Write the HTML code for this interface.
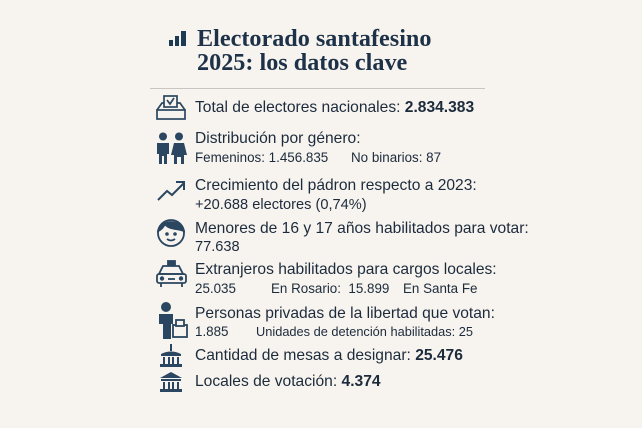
<!DOCTYPE html>
<html><head><meta charset="utf-8"><style>
*{margin:0;padding:0;box-sizing:border-box}
body{width:642px;height:428px;background:#f7f3ee;position:relative;overflow:hidden;font-family:"Liberation Sans",sans-serif;color:#1c2b3c}
.t{position:absolute;left:197px;font-family:"Liberation Serif",serif;font-size:24.2px;font-weight:bold;line-height:24px;color:#1d3248;white-space:nowrap}
.m{position:absolute;left:195px;font-size:15.6px;line-height:20px;white-space:nowrap}
.s{position:absolute;font-size:13.4px;line-height:18px;white-space:nowrap}
b{font-weight:bold}
svg{position:absolute}
</style></head><body>
<svg style="left:169px;top:31px" width="18" height="16"><rect x="0" y="9" width="4" height="6" fill="#1d3a55"/><rect x="6" y="5" width="4" height="10" fill="#1d3a55"/><rect x="12" y="0" width="5" height="15" fill="#1d3a55"/></svg>
<div class="t" style="top:27px">Electorado santafesino</div>
<div class="t" style="top:51px">2025: los datos clave</div>
<div style="position:absolute;left:150px;top:88px;width:335px;height:1px;background:#c9c6c2"></div>

<svg style="left:156px;top:95px" width="32" height="26" fill="none" stroke="#2b4660" stroke-width="1.7"><rect x="1" y="15" width="28" height="9"/><path d="M1 15 L6 8 H24 L29 15"/><rect x="8" y="1" width="13" height="11" fill="#f7f3ee"/><path d="M11 5 L14 9 L18 3"/></svg>
<svg style="left:157px;top:132px" width="32" height="34" fill="#2b4660"><circle cx="6" cy="4.5" r="4"/><circle cx="22" cy="4.5" r="4"/><path d="M0 11 H12 V22 H10 V32 H7 V24 H5 V32 H2 V22 H0Z"/><path d="M17 11 H27 L30 23 H27 V32 H24 V25 H20 V32 H17 V23 H14Z"/></svg>
<svg style="left:157px;top:179px" width="32" height="24" fill="none" stroke="#2b4660" stroke-width="2"><path d="M1 21 L10 12 L15 16 L27 4"/><path d="M19 3 H27 V11"/></svg>
<svg style="left:156px;top:217px" width="32" height="32" fill="none" stroke="#2b4660" stroke-width="1.8"><circle cx="15" cy="16" r="13" fill="#f7f3ee"/><path d="M2 14 C4 2 26 2 28 14 C21 11 13 13 9 7 C7 11 5 13 2 14Z" fill="#2b4660"/><circle cx="11" cy="17" r="0.9" fill="#2b4660"/><circle cx="19" cy="17" r="0.9" fill="#2b4660"/><path d="M11 22 Q15 25 19 22"/></svg>
<svg style="left:156px;top:260px" width="32" height="30" fill="none" stroke="#2b4660" stroke-width="1.8"><rect x="12" y="1" width="7" height="4" fill="#2b4660"/><path d="M7 6 H23 L27 14 H3Z"/><rect x="1" y="14" width="29" height="9" rx="2"/><circle cx="6" cy="18.5" r="1.3" fill="#2b4660"/><circle cx="25" cy="18.5" r="1.3" fill="#2b4660"/><path d="M12 19 H19"/><path d="M5 23 V27 M26 23 V27"/></svg>
<svg style="left:159px;top:302px" width="32" height="38" fill="#2b4660"><circle cx="7" cy="5" r="5"/><path d="M0 12 H14 V22 H12 V37 H4 V22 H0Z"/><rect x="14" y="23" width="14" height="12" fill="#f7f3ee" stroke="#2b4660" stroke-width="1.8"/><rect x="17" y="18" width="8" height="6" fill="#f7f3ee" stroke="#2b4660" stroke-width="1.8"/></svg>
<svg style="left:159px;top:344px" width="26" height="26" fill="#2b4660"><rect x="11" y="0" width="2" height="7"/><path d="M2 10 Q12 5 22 10Z"/><rect x="2" y="10" width="20" height="2"/><rect x="4" y="13" width="2" height="7"/><rect x="9" y="13" width="2" height="7"/><rect x="13" y="13" width="2" height="7"/><rect x="18" y="13" width="2" height="7"/><rect x="1" y="20" width="22" height="3"/></svg>
<svg style="left:159px;top:372px" width="26" height="22" fill="#2b4660"><path d="M12 0 L23 6 H1Z"/><rect x="2" y="7" width="20" height="2"/><rect x="4" y="10" width="2" height="7"/><rect x="9" y="10" width="2" height="7"/><rect x="13" y="10" width="2" height="7"/><rect x="18" y="10" width="2" height="7"/><rect x="1" y="17" width="22" height="3"/></svg>

<div class="m" style="top:98px">Total de electores nacionales: <b>2.834.383</b></div>
<div class="m" style="top:129px">Distribución por género:</div>
<div class="s" style="left:195px;top:149px">Femeninos: 1.456.835</div>
<div class="s" style="left:351px;top:149px">No binarios: 87</div>
<div class="m" style="top:176px">Crecimiento del pádron respecto a 2023:</div>
<div class="m" style="top:195px;font-size:14.6px">+20.688 electores (0,74%)</div>
<div class="m" style="top:219px">Menores de 16 y 17 años habilitados para votar:</div>
<div class="m" style="top:237px;font-size:14.6px">77.638</div>
<div class="m" style="top:260px">Extranjeros habilitados para cargos locales:</div>
<div class="s" style="left:195px;top:280px">25.035</div>
<div class="s" style="left:271px;top:280px">En Rosario:&nbsp; 15.899</div>
<div class="s" style="left:403px;top:280px">En Santa Fe</div>
<div class="m" style="top:304px">Personas privadas de la libertad que votan:</div>
<div class="s" style="left:195px;top:323px">1.885</div>
<div class="s" style="left:256px;top:323px;font-size:12.8px">Unidades de detención habilitadas: 25</div>
<div class="m" style="top:346px">Cantidad de mesas a designar: <b>25.476</b></div>
<div class="m" style="top:372px">Locales de votación: <b>4.374</b></div>
</body></html>
